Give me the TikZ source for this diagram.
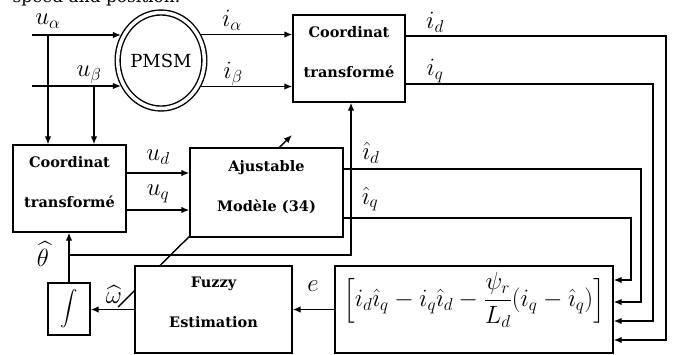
\documentclass[tikz,border=0pt]{standalone}
\usepackage{exscale}
\usepackage{fontspec}
\setmainfont{DejaVu Serif}
\usetikzlibrary{arrows.meta,shapes.geometric}
\begin{document}
\begin{tikzpicture}[x=1pt,y=-1pt,line width=1.4pt,
  arr/.style={-{Latex[length=8pt,width=6.5pt]}},
  blk/.style={draw,fill=white,rectangle,inner sep=0pt,line width=1.4pt},
  btxt/.style={font=\fontsize{14.5}{40}\selectfont\bfseries,align=center,text depth=14pt},
  lbl/.style={font=\fontsize{24}{28}\selectfont,inner sep=0pt}]
\useasboundingbox (0,0) rectangle (678,354);
% cropped caption at the very top
\node[anchor=base west,inner sep=0pt,font=\fontsize{17}{20}\selectfont] (cap) at (12,2) {speed and position.};
% level coordinates
\coordinate (ua) at (32,35);
\coordinate (ub) at (32,86);
\coordinate (ja) at (48,35);
\coordinate (jb) at (94,86);
\coordinate (yud) at (0,173);
\coordinate (yuq) at (0,210);
\coordinate (yid) at (0,36);
\coordinate (yiq) at (0,84);
\coordinate (yhd) at (0,169);
\coordinate (yhq) at (0,218);
\coordinate (yth) at (0,255);
\coordinate (xth) at (351,0);
\coordinate (xid) at (666,0);
\coordinate (xiq) at (653,0);
\coordinate (xhd) at (641,0);
\coordinate (xhq) at (631,0);
\coordinate (y1) at (0,280);
\coordinate (y2) at (0,302);
\coordinate (y3) at (0,321);
\coordinate (y4) at (0,340);
\coordinate (dg1) at (118,307);
\coordinate (dg2) at (292,135);
% adjustment arrow (behind the boxes)
\draw[arr] (dg1) -- (dg2);
% blocks
\node[ellipse,draw,double,double distance=3.5pt,line width=1.4pt,fill=white,
      minimum width=85pt,minimum height=96pt,inner sep=0pt,outer sep=3.15pt,
      font=\fontsize{18}{20}\selectfont] (pmsm) at (161,60.5) {PMSM};
\node[blk,btxt,minimum width=112pt,minimum height=87pt] (tbox) at (349,58.5) {Coordinat\\transformé};
\node[blk,btxt,minimum width=113pt,minimum height=87pt] (cbox) at (69.5,188.5) {Coordinat\\transformé};
\node[blk,btxt,minimum width=153pt,minimum height=89pt] (adj) at (266.5,192.5) {Ajustable\\Modèle (34)};
\node[blk,btxt,minimum width=157pt,minimum height=87pt] (fuzzy) at (213.5,309.5) {Fuzzy\\Estimation};
\node[blk,minimum width=42pt,minimum height=52pt,font=\fontsize{16}{20}\selectfont] (integ) at (69,309) {$\displaystyle\int$};
\node[blk,minimum width=278pt,minimum height=87pt] (expr) at (474,309.5) {};
\node[inner sep=0pt,font=\fontsize{24}{28}\selectfont] (exprt) at (474,300)
  {$\Bigl[i_d\hat{\imath}_q-i_q\hat{\imath}_d-\displaystyle\frac{\psi_r}{L_d}(i_q-\hat{\imath}_q)\Bigr]$};
% connectors
\draw[arr] (ua) -- (ua -| pmsm.147);
\draw[arr] (ub) -- (ub -| pmsm.213);
\draw[arr] (ja) -- (ja |- cbox.north);
\draw[arr] (jb) -- (jb |- cbox.north);
\draw[arr] (pmsm.33) -- (pmsm.33 -| tbox.west);
\draw[arr] (pmsm.327) -- (pmsm.327 -| tbox.west);
\draw[arr] (cbox.east |- yud) -- (adj.west |- yud);
\draw[arr] (cbox.east |- yuq) -- (adj.west |- yuq);
\draw[arr] (integ.north) -- (integ.north |- cbox.south);
\draw[arr] (integ.north |- yth) -- (xth |- yth) -- (xth |- tbox.south);
\draw[arr] (fuzzy.west) -- (fuzzy.west -| integ.east);
\draw[arr] (expr.west) -- (expr.west -| fuzzy.east);
\draw[arr] (tbox.east |- yid) -- (xid |- yid) -- (xid |- y4) -- (expr.east |- y4);
\draw[arr] (tbox.east |- yiq) -- (xiq |- yiq) -- (xiq |- y3) -- (expr.east |- y3);
\draw[arr] (adj.east |- yhd) -- (xhd |- yhd) -- (xhd |- y2) -- (expr.east |- y2);
\draw[arr] (adj.east |- yhq) -- (xhq |- yhq) -- (xhq |- y1) -- (expr.east |- y1);
% labels
\node[lbl] (lua) at (48,21) {$u_\alpha$};
\node[lbl] (lub) at (89,75) {$u_\beta$};
\node[lbl] (lia) at (232,20) {$i_\alpha$};
\node[lbl] (lib) at (233,74) {$i_\beta$};
\node[lbl] (lid) at (435,22) {$i_d$};
\node[lbl] (liq) at (435,71) {$i_q$};
\node[lbl] (lud) at (158,157) {$u_d$};
\node[lbl] (luq) at (158,194) {$u_q$};
\node[lbl] (lhd) at (371,153) {$\hat{\imath}_d$};
\node[lbl] (lhq) at (370,199) {$\hat{\imath}_q$};
\node[lbl] (lth) at (43,254) {$\widehat{\theta}$};
\node[lbl] (lom) at (114,295) {$\widehat{\omega}$};
\node[lbl] (le) at (313,286) {$e$};
\end{tikzpicture}
\end{document}
